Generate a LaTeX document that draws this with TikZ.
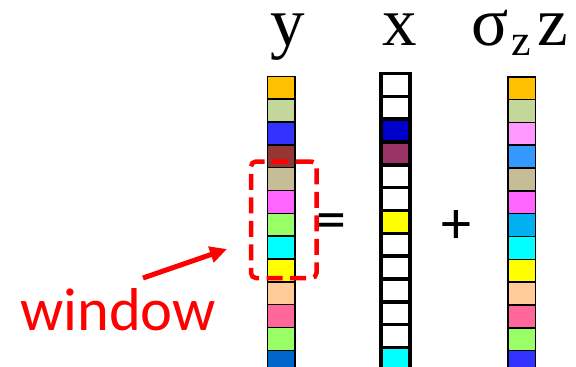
\documentclass[tikz,border=0pt]{standalone}
\usepackage{fontspec}
\setmainfont{Liberation Serif}
\newfontfamily\sansf{Carlito}
\usetikzlibrary{arrows.meta}
\definecolor{cGold}{HTML}{FFC000}
\definecolor{cOlive}{HTML}{C4D79B}
\definecolor{cBlue}{HTML}{3333FF}
\definecolor{cBrown}{HTML}{943634}
\definecolor{cTan}{HTML}{C4BD97}
\definecolor{cMag}{HTML}{FF66FF}
\definecolor{cLGreen}{HTML}{99FF66}
\definecolor{cCyan}{HTML}{00FFFF}
\definecolor{cYel}{HTML}{FFFF00}
\definecolor{cPeach}{HTML}{FFCC99}
\definecolor{cPink}{HTML}{FF6699}
\definecolor{cMidBlue}{HTML}{0066CC}
\definecolor{cNavy}{HTML}{0000CC}
\definecolor{cPlum}{HTML}{993366}
\definecolor{cLPink}{HTML}{FF99FF}
\definecolor{cSky}{HTML}{3399FF}
\definecolor{cAzure}{HTML}{00B0F0}
\definecolor{cRed}{HTML}{FF0000}
\tikzset{
  ycell/.style={draw=black, line width=1.5pt, minimum width=27.5pt, minimum height=22.83pt, inner sep=0pt, outer sep=0pt},
  xcell/.style={draw=black, line width=3.5pt, minimum width=29.2pt, minimum height=22.83pt, inner sep=0pt, outer sep=0pt},
  title/.style={inner sep=0pt, anchor=base, font=\fontsize{69}{69}\selectfont},
  op/.style={inner sep=0pt, font=\sansf\fontsize{60}{60}\selectfont},
  winbox/.style={draw=cRed, line width=4.5pt, dash pattern=on 16pt off 7.5pt, rounded corners=5pt, minimum width=65.5pt, minimum height=116.5pt, inner sep=0pt},
  pointer/.style={draw=cRed, line width=5pt, -{Triangle[length=17pt,width=16pt]}}
}
\begin{document}
\begin{tikzpicture}[x=1pt, y=-1pt]
\useasboundingbox (0,0) rectangle (576,367);
\clip (0,0) rectangle (576,367);
% y column
\foreach \c [count=\k from 0] in {cGold,cOlive,cBlue,cBrown,cTan,cMag,cLGreen,cCyan,cYel,cPeach,cPink,cLGreen,cMidBlue}
  \node[ycell, fill=\c] (y\k) at (281.2, {76.4+22.83*(\k+0.5)}) {};
% x column
\foreach \c [count=\k from 0] in {white,white,cNavy,cPlum,white,white,cYel,white,white,white,white,white,cCyan}
  \node[xcell, fill=\c] (x\k) at (395.35, {73.45+22.83*(\k+0.5)}) {};
% z column
\foreach \c [count=\k from 0] in {cGold,cOlive,cLPink,cSky,cTan,cMag,cAzure,cCyan,cYel,cPeach,cPink,cLGreen,cBlue}
  \node[ycell, fill=\c] (z\k) at (521.8, {76.75+22.83*(\k+0.5)}) {};
% titles
\node[title] (ty) at (287.5,45) {y};
\node[title] (tx) at (400,45) {x};
\node[title, anchor=base west] (tz) at (471,45) {σ\hspace{3pt}\raisebox{-10pt}{\fontsize{44}{44}\selectfont z}\hspace{7pt}z};
% operators
\node[op] (eq) at (331.5,227) {=};
\node[op] (plus) at (456.5,227.5) {+};
% window
\node[winbox] (win) at (283.75,219.75) {};
\node[inner sep=0pt, anchor=base west, text=cRed, font=\sansf\fontsize{60.5}{60.5}\selectfont] (wlab) at (20,330) {window};
\coordinate (atail) at (143,278);
\coordinate (atip) at (227,249);
\draw[pointer] (atail) -- (atip);
\end{tikzpicture}
\end{document}
